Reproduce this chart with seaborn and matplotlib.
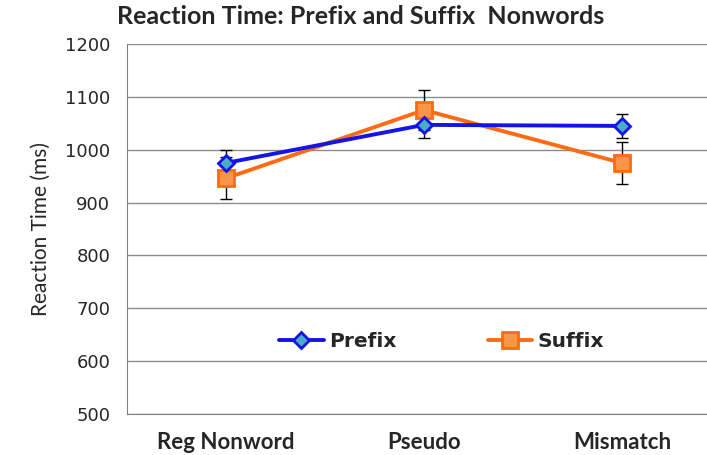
import numpy as np
import pandas as pd
import matplotlib
matplotlib.use('Agg')
import matplotlib.pyplot as plt
import seaborn as sns

# chart data
conditions = ['Reg Nonword', 'Pseudo', 'Mismatch']
prefix_rt = [975, 1047, 1045]
prefix_err = [25, 24, 22]
suffix_rt = [946, 1075, 975]
suffix_err = [40, 38, 39]

sns.set_style('white')
plt.rcParams['font.family'] = ['DejaVu Sans']

df = pd.DataFrame({
    'pos': list(range(len(conditions))) * 2,
    'rt': prefix_rt + suffix_rt,
    'err': prefix_err + suffix_err,
    'series': ['Prefix'] * 3 + ['Suffix'] * 3,
})

fig = plt.figure(figsize=(7.07, 4.55), dpi=100)
ax = fig.add_axes([127 / 707, 1 - 414 / 455, 594 / 707, 370 / 455])

styles = {
    'Prefix': dict(color='#1414E6', marker='D', mfc='#4BACC6', mec='#1414E6', ms=8, z=4),
    'Suffix': dict(color='#FF6A14', marker='s', mfc='#F79646', mec='#FF6A14', ms=11, z=3),
}

# error bars first so the markers sit on top
for name, grp in df.groupby('series'):
    ax.errorbar(grp['pos'], grp['rt'], yerr=grp['err'], fmt='none',
                ecolor='black', elinewidth=1, capsize=4, capthick=1, zorder=2)

for name, grp in df.groupby('series'):
    st = styles[name]
    sns.lineplot(data=grp, x='pos', y='rt', ax=ax, color=st['color'], lw=2.8,
                 marker=st['marker'], markersize=st['ms'], markerfacecolor=st['mfc'],
                 markeredgecolor=st['mec'], markeredgewidth=2, label=name,
                 zorder=st['z'])

ax.set_xlim(-0.5, 2.5)
ax.set_ylim(500, 1200)
ax.set_yticks(range(500, 1201, 100))
ax.set_xticks(range(len(conditions)))
ax.set_xticklabels(conditions, fontsize=16, fontweight='bold', family='Lato')
ax.set_xticks([-0.5, 0.5, 1.5], minor=True)
ax.tick_params(axis='x', which='major', length=0, pad=13)
ax.tick_params(axis='x', which='minor', length=6, color='#808080', width=1, direction='out')
ax.tick_params(axis='y', length=6, color='#808080', labelsize=13, direction='out', pad=6)
ax.yaxis.grid(True, color='#8c8c8c', lw=1)
ax.set_axisbelow(True)

for s in ['top', 'right']:
    ax.spines[s].set_visible(False)
ax.spines['left'].set_color('#808080')
ax.spines['bottom'].set_color('#808080')

ax.set_xlabel('')
ax.set_ylabel('Reaction Time (ms)', fontsize=15, family='Lato', labelpad=10)
fig.suptitle('Reaction Time: Prefix and Suffix  Nonwords', x=0.51, y=0.99,
             fontsize=18, fontweight='bold', family='Lato')

leg = ax.legend(loc='center', bbox_to_anchor=(0.53, 0.195), ncol=2, frameon=False,
                columnspacing=4.5, handlelength=2.2, handletextpad=0.3,
                prop={'weight': 'bold', 'size': 14.5})

fig.savefig('out.png', dpi=100)
